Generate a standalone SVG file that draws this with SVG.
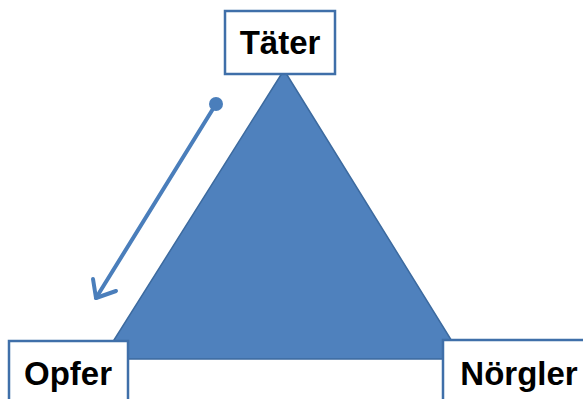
<svg xmlns="http://www.w3.org/2000/svg" width="583" height="399" viewBox="0 0 583 399">
  <defs>
    <style>
      .box { fill: #ffffff; stroke: #3f6fa9; stroke-width: 2.5; }
      .label { font-family: "Liberation Sans", Arial, sans-serif; font-weight: bold; font-size: 33px; fill: #000000; }
      .conn { fill: none; stroke: #4a7ebb; stroke-width: 4; stroke-linecap: round; stroke-linejoin: round; }
    </style>
  </defs>
  <rect width="583" height="399" fill="#ffffff"/>

  <!-- triangle -->
  <g id="triangle">
    <polygon points="284,70 102,359 463,359" fill="#4f81bd" stroke="#3c6a9f" stroke-width="1.5"/>
  </g>

  <!-- connectors -->
  <g id="connectors">
    <line class="conn" x1="216" y1="104" x2="96" y2="298"/>
    <circle cx="216" cy="104" r="7" fill="#4a7ebb"/>
    <polyline class="conn" points="93,279 96,298 116,291"/>
  </g>

  <g id="taeter">
    <rect class="box" x="225" y="11" width="110" height="63"/>
    <text class="label" x="280" y="54" text-anchor="middle">Täter</text>
  </g>

  <g id="opfer">
    <rect class="box" x="9" y="341" width="119" height="64"/>
    <text class="label" x="68" y="385" text-anchor="middle">Opfer</text>
  </g>

  <g id="noergler">
    <rect class="box" x="443" y="340" width="150" height="65"/>
    <text class="label" x="519" y="385" text-anchor="middle">Nörgler</text>
  </g>
</svg>
